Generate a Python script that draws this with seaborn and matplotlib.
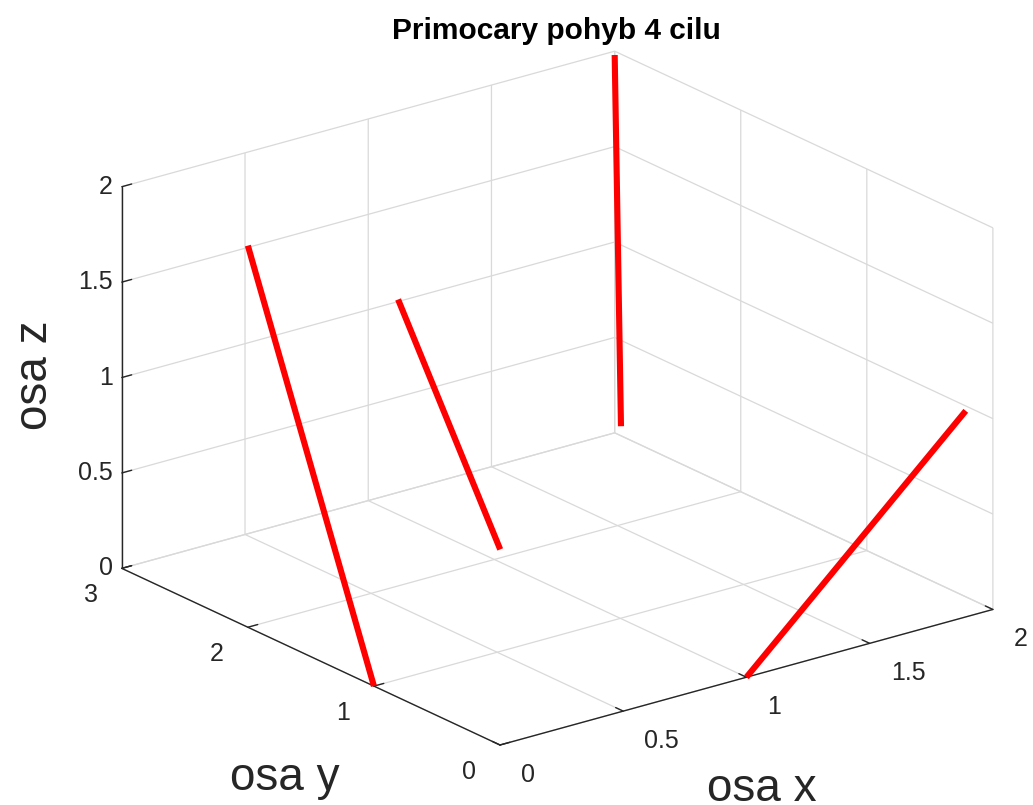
import numpy as np
import pandas as pd
import seaborn as sns
import matplotlib
matplotlib.use("Agg")
import matplotlib.pyplot as plt
from mpl_toolkits.mplot3d import proj3d

# ---- data ----
targets = ["cil 1", "cil 2", "cil 3", "cil 4"]
x_start = [0.0, 1.07, 2.0, 1.0]
x_end = [0.0, 1.07, 2.0, 1.89]
y_start = [1.0, 2.09, 2.95, 0.0]
y_end = [2.0, 2.90, 3.0, 0.0]
z_start = [0.0, 0.0, 0.05, 0.0]
z_end = [2.0, 1.06, 1.98, 1.08]

x_ticks = [0, 0.5, 1, 1.5, 2]
y_ticks = [0, 1, 2, 3]
z_ticks = [0, 0.5, 1, 1.5, 2]
x_ticklabels = ["0", "0.5", "1", "1.5", "2"]
y_ticklabels = ["0", "1", "2", "3"]
z_ticklabels = ["0", "0.5", "1", "1.5", "2"]

title = "Primocary pohyb 4 cilu"
xlabel, ylabel, zlabel = "osa x", "osa y", "osa z"

df = pd.DataFrame({"target": targets, "x0": x_start, "x1": x_end,
                   "y0": y_start, "y1": y_end, "z0": z_start, "z1": z_end})

sns.set_theme(style="white")
plt.rcParams["font.family"] = ["Liberation Sans", "DejaVu Sans"]

W, H = 1033, 805
fig = plt.figure(figsize=(W / 100, H / 100), dpi=100)
fig.patch.set_facecolor("white")
ax = fig.add_axes([0.05, 0.05, 0.9, 0.9], projection="3d")
ax.set_proj_type("ortho")
ax.view_init(elev=21, azim=-127.5)
ax.set_box_aspect((1, 1, 0.658))

grid_col = "#d9d9d9"
axis_col = "#262626"
for axis in (ax.xaxis, ax.yaxis, ax.zaxis):
    axis.set_pane_color((1, 1, 1, 0))
    axis.pane.set_edgecolor(grid_col)
    axis.line.set_color(axis_col)
    axis.line.set_linewidth(1.0)
    axis._axinfo["grid"].update(color=grid_col, linewidth=0.9)
    axis._axinfo["tick"].update(inward_factor=0.0, outward_factor=0.25,
                                linewidth={True: 1.0, False: 0.5})
    axis._axinfo["tick"]["color"] = axis_col

color = sns.color_palette(["#ff0000"])[0]
for _, r in df.iterrows():
    ax.plot([r.x0, r.x1], [r.y0, r.y1], [r.z0, r.z1], color=color,
            linewidth=4.4, solid_capstyle="butt")

ax.set_xlim(0, 2)
ax.set_ylim(0, 3)
ax.set_zlim(0, 2)
ax.set_xticks(x_ticks)
ax.set_yticks(y_ticks)
ax.set_zticks(z_ticks)
# built-in tick labels hidden; they are placed below at the projected ticks
for axis in (ax.xaxis, ax.yaxis, ax.zaxis):
    axis.set_tick_params(labelbottom=False, labeltop=False)
    axis.label.set_visible(False)
ax.grid(True)

# ---- fit the projected box onto the reference geometry ----
def disp(x, y, z):
    xs, ys, _ = proj3d.proj_transform(x, y, z, ax.get_proj())
    return np.array(ax.transData.transform((xs, ys)))

tgt_O = np.array([500, H - 745])
tgt_X = np.array([993, H - 610])
tgt_Y = np.array([122, H - 567])
for _ in range(3):
    fig.canvas.draw()
    O, X, Y = disp(0, 0, 0), disp(2, 0, 0), disp(0, 3, 0)
    s = np.linalg.norm(tgt_X - tgt_Y) / np.linalg.norm(X - Y)
    bb = ax.get_position(original=False)
    L = bb.width * W
    c = np.array([(bb.x0 + bb.width / 2) * W, (bb.y0 + bb.height / 2) * H])
    c_new = tgt_O - (O - c) * s
    L_new = L * s
    ax.set_position([(c_new[0] - L_new / 2) / W, (c_new[1] - L_new / 2) / H,
                     L_new / W, L_new / H])
fig.canvas.draw()

# ---- tick labels at the projected tick positions, nudged in pixels ----
lab_kw = dict(fontsize=18, color=axis_col)

def tick_label(p, text, dx, dy, ha):
    fig.text((p[0] + dx) / W, (p[1] + dy) / H, text, ha=ha, va="center", **lab_kw)

for v, s_ in zip(x_ticks, x_ticklabels):
    tick_label(disp(v, 0, 0), s_, 21, -30, "left")
for v, s_ in zip(y_ticks, y_ticklabels):
    tick_label(disp(0, v, 0), s_, -24, -27, "right")
for v, s_ in zip(z_ticks, z_ticklabels):
    tick_label(disp(0, 3, v), s_, -9, 0, "right")

fig.text(556 / W, 1 - 31 / H, title, ha="center", va="center",
         fontsize=21.5, fontweight="bold", color="black")
fig.text(762 / W, 1 - 789 / H, xlabel, ha="center", va="center",
         fontsize=33, color=axis_col)
fig.text(285 / W, 1 - 778 / H, ylabel, ha="center", va="center",
         fontsize=33, color=axis_col)
fig.text(35 / W, 1 - 375 / H, zlabel, ha="center", va="center",
         fontsize=33, rotation=90, color=axis_col)

fig.savefig("out.png", dpi=100, facecolor="white")
